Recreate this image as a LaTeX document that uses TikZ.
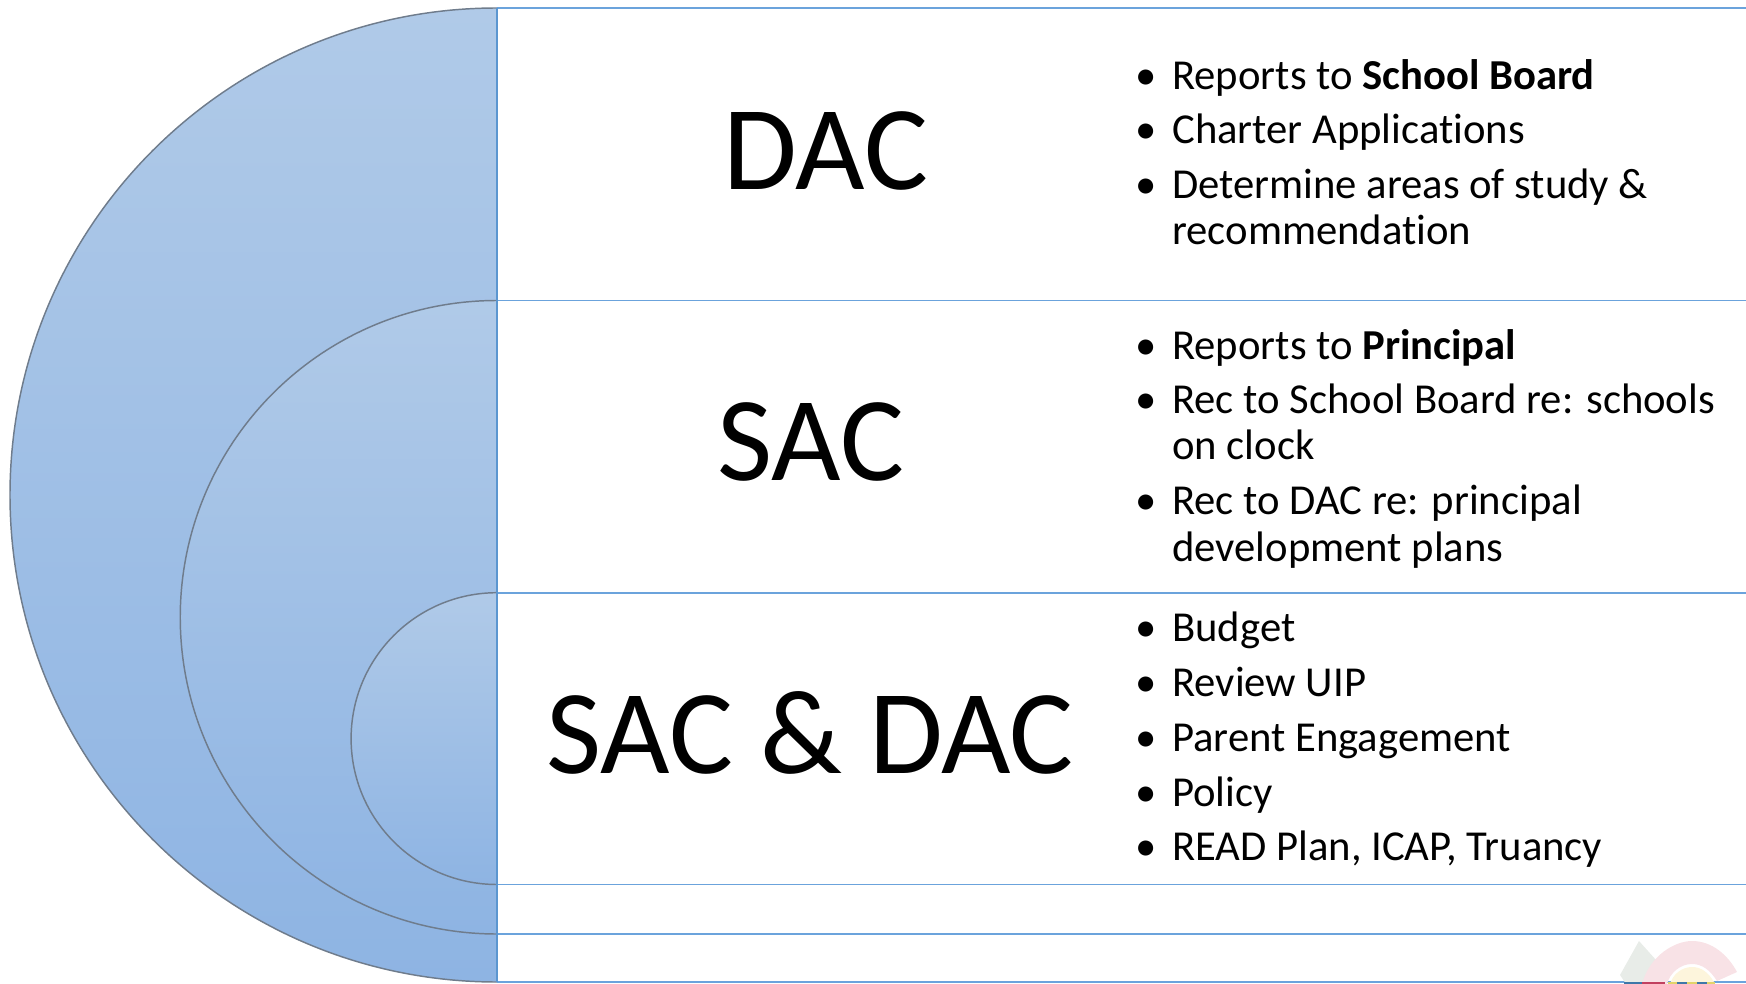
\documentclass[tikz,border=0pt]{standalone}
\usepackage{fontspec}
\setmainfont[Ligatures=NoCommon]{Carlito}
\usepackage{tikz}
\usetikzlibrary{positioning}
\definecolor{ruleblue}{HTML}{6BA3DC}
\definecolor{spineblue}{HTML}{5B96D0}
\definecolor{arcgrey}{HTML}{6F7C8C}
\definecolor{toptint}{HTML}{B0CAE8}
\definecolor{lowtint}{HTML}{8EB4E3}
\definecolor{palepine}{HTML}{E8ECE8}
\definecolor{palerose}{HTML}{F8E2E6}
\definecolor{palesun}{HTML}{FDF5DC}
\definecolor{barblue}{HTML}{3F77A8}
\definecolor{barred}{HTML}{C2405F}
\definecolor{baryellow}{HTML}{E3D36A}
\tikzset{
  band/.style={draw=arcgrey, line width=1.1pt, top color=toptint, bottom color=lowtint},
  rule/.style={draw=ruleblue, line width=1.3pt},
  spine/.style={draw=spineblue, line width=1.6pt},
  title/.style={font=\fontsize{90}{100}\selectfont, inner sep=0pt, anchor=base},
  entry/.style={font=\fontsize{32}{34.6}\selectfont, inner sep=0pt, anchor=base west, align=left},
}
\newcommand{\dotitem}{\makebox[0pt][r]{\textbullet\hspace{11.5pt}}}
\begin{document}
\begin{tikzpicture}[x=0.75pt, y=-0.75pt]
  \useasboundingbox (0,0) rectangle (1746,984);

  % Define nodes
  \coordinate (outerTop) at (497,8);
  \coordinate (outerLow) at (497,982);
  \coordinate (midTop) at (497,300.5);
  \coordinate (midLow) at (497,934);
  \coordinate (innerTop) at (497,592.7);
  \coordinate (innerLow) at (497,884.5);

  \node[title] (dac) at (826,189.5) {DAC};
  \node[title] (sac) at (811,480.5) {SAC};
  \node[title] (both) at (810,773) {SAC \& DAC};

  \node[entry] (board) at (1172,89.5) {\dotitem Reports to \textbf{School Board}};
  \node[entry] (charter) at (1172,144) {\dotitem Charter Applications};
  \node[entry] (areas) at (1172,245) {\dotitem Determine areas of study \&\\recommendation};

  \node[entry] (principal) at (1172,359) {\dotitem Reports to \textbf{Principal}};
  \node[entry] (clock) at (1172,459.5) {\dotitem Rec to School Board re: schools\\on clock};
  \node[entry] (plans) at (1172,561) {\dotitem Rec to DAC re: principal\\development plans};

  \node[entry] (budget) at (1172,641.5) {\dotitem Budget};
  \node[entry] (uip) at (1172,696.5) {\dotitem Review UIP};
  \node[entry] (parent) at (1172,751.5) {\dotitem Parent Engagement};
  \node[entry] (policy) at (1172,806) {\dotitem Policy};
  \node[entry] (read) at (1172,860.5) {\dotitem READ Plan, ICAP, Truancy};

  % Half discs
  \path[band] (outerTop) arc (270:90:487) -- cycle;
  \path[band] (midTop) arc (270:90:316.75) -- cycle;
  \path[band] (innerTop) arc (270:90:145.9) -- cycle;

  % Rules
  \foreach \a in {outerTop, midTop, innerTop, innerLow, midLow, outerLow}
    \draw[rule] (\a) -- (\a -| 1746,0);
  \draw[spine] (outerTop) -- (outerLow);

  % Faded mark in the corner
  \begin{scope}
    \clip (1600,936) rectangle (1746,984);
    \fill[palepine] (1639,941) -- (1620,975) -- (1626,984) -- (1660,984) -- (1665,970) -- cycle;
    \fill[palerose] (1642,984) .. controls (1650,955) and (1675,941) .. (1692,941) .. controls (1712,941) and (1728,955) .. (1737,972) -- (1717,981) .. controls (1710,970) and (1702,964) .. (1692,964) .. controls (1680,964) and (1670,973) .. (1667,984) -- cycle;
    \fill[palesun] (1670,984) .. controls (1673,974) and (1682,967) .. (1692,967) .. controls (1701,967) and (1708,972) .. (1714,982) -- (1714,984) -- cycle;
    \fill[barblue] (1624,982) rectangle (1642,984);
    \fill[barred] (1642,982) rectangle (1665,984);
    \fill[baryellow] (1668,982) rectangle (1715,984);
    \fill[barblue] (1677,982) rectangle (1687,984);
    \fill[barblue] (1697,982) rectangle (1707,984);
  \end{scope}
\end{tikzpicture}
\end{document}
